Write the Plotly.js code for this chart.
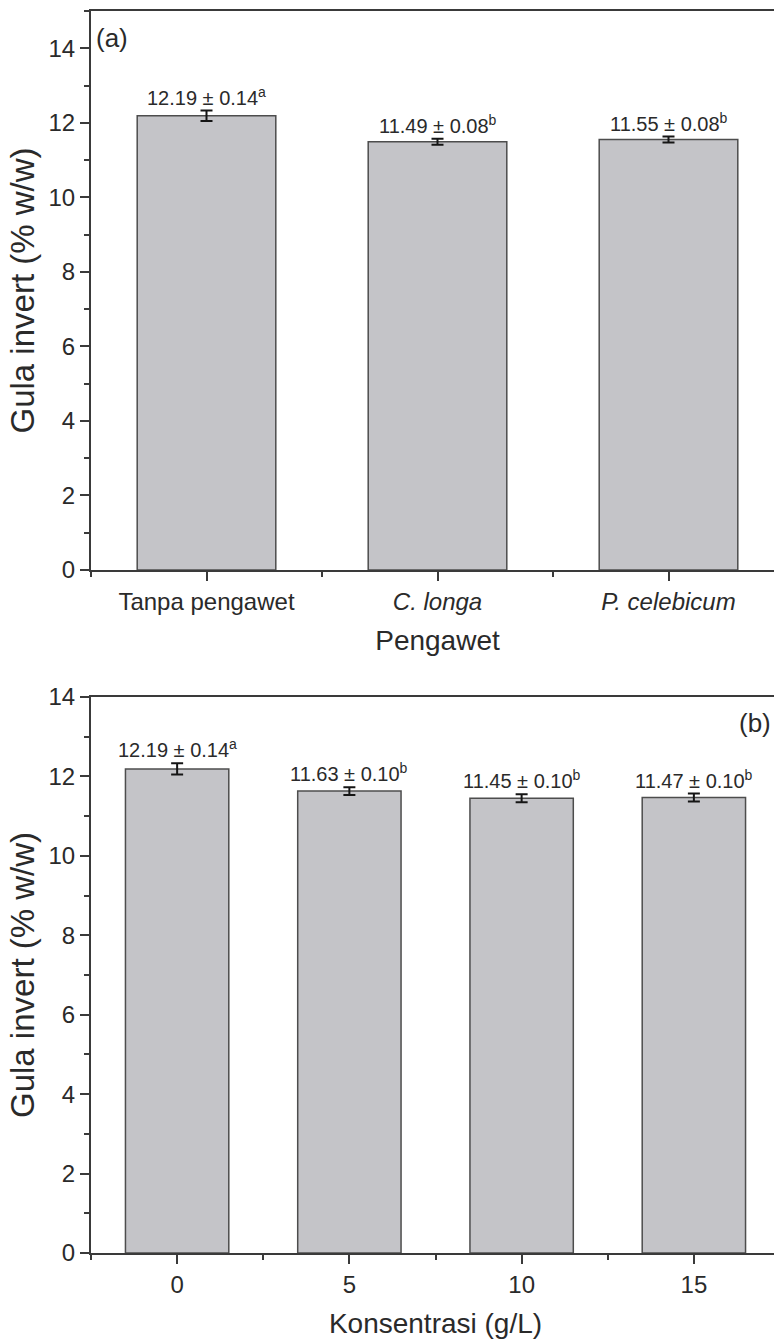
<!DOCTYPE html>
<html>
<head>
<meta charset="utf-8">
<script src="https://cdn.plot.ly/plotly-3.0.1.min.js"></script>
<style>
  html, body { margin: 0; padding: 0; overflow: hidden; background: #fff; }
  #chart { width: 800px; height: 1342px; }
</style>
</head>
<body>
<div id="chart"></div>
<script>
// (a) invert sugar by preservative type
const preservatives = ['Tanpa pengawet', '<i>C. longa</i>', '<i>P. celebicum</i>'];
const presMean = [12.19, 11.49, 11.55];
const presSD = [0.14, 0.08, 0.08];
const presGroup = ['a', 'b', 'b'];

// (b) invert sugar by preservative concentration
const concentrations = [0, 5, 10, 15];
const concMean = [12.19, 11.63, 11.45, 11.47];
const concSD = [0.14, 0.10, 0.10, 0.10];
const concGroup = ['a', 'b', 'b', 'b'];

const FONT = 'Liberation Sans, Arial, Helvetica, sans-serif';
const INK = '#2a2a2a';
const AXIS = '#3a3a3a';
const BAR_FILL = '#c4c4c8';
const BAR_LINE = '#4d4d4d';

// figure geometry (pixels)
const W = 800, H = 1342;
const M = { l: 91, r: 16, t: 11, b: 89 };
const plotW = W - M.l - M.r;          // 693
const plotH = H - M.t - M.b;          // 1242
const topBottomPx = 570, botTopPx = 697;
const yTopDomain = [(H - M.b - topBottomPx) / plotH, 1];
const yBotDomain = [0, (H - M.b - botTopPx) / plotH];
const xBotDomain = [0, 689 / plotW];

const presX = preservatives.map((_, i) => i);

function label(m, s, g) {
  return m.toFixed(2) + ' ± ' + s.toFixed(2) + '<sup>' + g + '</sup>';
}

const barStyle = {
  type: 'bar',
  marker: { color: BAR_FILL, line: { color: BAR_LINE, width: 1.5 } },
  hoverinfo: 'skip',
  showlegend: false
};

const traces = [
  Object.assign({}, barStyle, {
    x: presX, y: presMean, width: 0.6,
    xaxis: 'x', yaxis: 'y',
    error_y: { type: 'data', array: presSD, visible: true, color: '#151515', thickness: 2, width: 6 }
  }),
  Object.assign({}, barStyle, {
    x: concentrations, y: concMean, width: 3,
    xaxis: 'x2', yaxis: 'y2',
    error_y: { type: 'data', array: concSD, visible: true, color: '#151515', thickness: 2, width: 6 }
  })
];

const LABEL_SIZE = 20;
const valueAnnotations = [];
presX.forEach((x, i) => {
  valueAnnotations.push({
    xref: 'x', yref: 'y', x: x, y: presMean[i] + presSD[i],
    text: label(presMean[i], presSD[i], presGroup[i]),
    showarrow: false, yanchor: 'bottom', xanchor: 'center', yshift: 0,
    font: { family: FONT, size: LABEL_SIZE, color: INK }
  });
});
concentrations.forEach((x, i) => {
  valueAnnotations.push({
    xref: 'x2', yref: 'y2', x: x, y: concMean[i] + concSD[i],
    text: label(concMean[i], concSD[i], concGroup[i]),
    showarrow: false, yanchor: 'bottom', xanchor: 'center', yshift: 0,
    font: { family: FONT, size: LABEL_SIZE, color: INK }
  });
});

const panelAnnotations = [
  { xref: 'x domain', yref: 'y domain', x: 3 / plotW, y: 1 - 10 / 559,
    text: '(a)', showarrow: false, xanchor: 'left', yanchor: 'top',
    font: { family: FONT, size: 26, color: INK } },
  { xref: 'x2 domain', yref: 'y2 domain', x: (773 - M.l) / 689, y: 1 - 9 / 556,
    text: '(b)', showarrow: false, xanchor: 'right', yanchor: 'top',
    font: { family: FONT, size: 26, color: INK } }
];

const axisCommon = {
  showline: true, linecolor: AXIS, linewidth: 2, mirror: true,
  ticks: 'outside', ticklen: 9, tickwidth: 2, tickcolor: AXIS,
  showgrid: false, zeroline: false,
  tickfont: { family: FONT, size: 24, color: INK }
};

const yTitle = {
  text: 'Gula invert (% w/w)',
  font: { family: FONT, size: 33, color: INK },
  standoff: 4
};

const layout = {
  width: W, height: H,
  margin: M,
  paper_bgcolor: '#fff', plot_bgcolor: '#fff',
  font: { family: FONT, color: INK },
  xaxis: Object.assign({}, axisCommon, {
    domain: [0, 1], anchor: 'y',
    range: [-0.5, 2.5],
    tickmode: 'array', tickvals: presX, ticktext: preservatives,
    minor: { tickmode: 'array', tickvals: [-0.5, 0.5, 1.5, 2.5], ticks: 'outside', ticklen: 5, tickwidth: 2, tickcolor: AXIS },
    title: { text: 'Pengawet', font: { family: FONT, size: 28, color: INK }, standoff: 17 }
  }),
  yaxis: Object.assign({}, axisCommon, {
    domain: yTopDomain, anchor: 'x',
    range: [0, 15], tick0: 0, dtick: 2,
    minor: { dtick: 1, ticks: 'outside', ticklen: 5, tickwidth: 2, tickcolor: AXIS },
    title: yTitle
  }),
  xaxis2: Object.assign({}, axisCommon, {
    domain: xBotDomain, anchor: 'y2',
    range: [-2.5, 17.5], tick0: 0, dtick: 5,
    minor: { tick0: 0, dtick: 2.5, ticks: 'outside', ticklen: 5, tickwidth: 2, tickcolor: AXIS },
    title: { text: 'Konsentrasi (g/L)', font: { family: FONT, size: 28, color: INK }, standoff: 17 }
  }),
  yaxis2: Object.assign({}, axisCommon, {
    domain: yBotDomain, anchor: 'x2',
    range: [0, 14], tick0: 0, dtick: 2,
    minor: { dtick: 1, ticks: 'outside', ticklen: 5, tickwidth: 2, tickcolor: AXIS },
    title: yTitle
  }),
  annotations: valueAnnotations.concat(panelAnnotations)
};

Plotly.newPlot('chart', traces, layout, { staticPlot: true, displayModeBar: false });
</script>
</body>
</html>
